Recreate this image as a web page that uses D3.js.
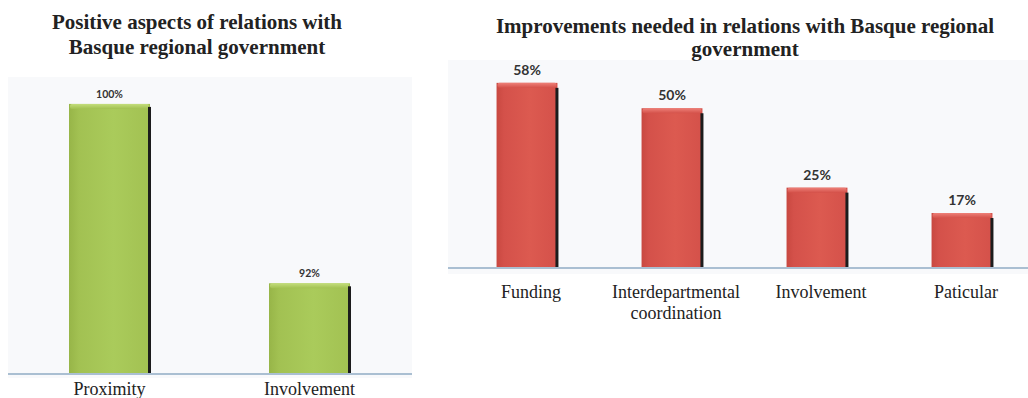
<!DOCTYPE html>
<html>
<head>
<meta charset="utf-8">
<script src="https://cdn.jsdelivr.net/npm/d3@7"></script>
<style>
  html, body { margin: 0; padding: 0; background: #ffffff; }
  svg { display: block; }
</style>
</head>
<body>
<svg id="chart" width="1028" height="398"></svg>
<script>
// Positive aspects (left panel)
const positiveCategories = ["Proximity", "Involvement"];
const positiveValues = [100, 92];
const positiveAxisMin = 88;      // value axis does not start at zero
const positiveAxisMax = 101.2;

// Improvements needed (right panel)
const improvementCategories = [["Funding"], ["Interdepartmental", "coordination"], ["Involvement"], ["Paticular"]];
const improvementValues = [58, 50, 25, 17];
const improvementAxisMax = 65.2;

const leftTitle = ["Positive aspects of relations with", "Basque regional government"];
const rightTitle = ["Improvements needed in relations with Basque regional", "government"];

const svg = d3.select("#chart");
const defs = svg.append("defs");

function makeGradients(id, light, mid, dark, topLight) {
  const g = defs.append("linearGradient").attr("id", id)
    .attr("x1", "0").attr("x2", "1").attr("y1", "0").attr("y2", "0");
  g.append("stop").attr("offset", "0%").attr("stop-color", dark);
  g.append("stop").attr("offset", "12%").attr("stop-color", mid);
  g.append("stop").attr("offset", "55%").attr("stop-color", light);
  g.append("stop").attr("offset", "100%").attr("stop-color", mid);
  const t = defs.append("linearGradient").attr("id", id + "-top")
    .attr("x1", "0").attr("x2", "0").attr("y1", "0").attr("y2", "1");
  t.append("stop").attr("offset", "0%").attr("stop-color", topLight);
  t.append("stop").attr("offset", "100%").attr("stop-color", mid);
}
makeGradients("green", "#aacb5b", "#a2c152", "#97b548", "#c4de7c");
makeGradients("red", "#dc5a50", "#d4514a", "#c84840", "#ee8078");

function drawPanel(opts) {
  const g = svg.append("g");
  // plot background
  g.append("rect")
    .attr("x", opts.bgX0).attr("y", opts.bgY0)
    .attr("width", opts.bgX1 - opts.bgX0).attr("height", opts.bgY1 - opts.bgY0)
    .attr("fill", "#f8f9fb");

  const x = d3.scaleBand()
    .domain(d3.range(opts.values.length))
    .range(opts.xRange)
    .paddingInner(opts.pad).paddingOuter(opts.pad / 2);
  const y = d3.scaleLinear().domain(opts.yDomain).range([opts.baseline, opts.bgY0]);

  const bars = g.selectAll("g.bar").data(opts.values).join("g").attr("class", "bar");
  const bw = x.bandwidth();

  bars.append("rect")
    .attr("x", (d, i) => x(i)).attr("y", d => y(d))
    .attr("width", bw).attr("height", d => y(opts.yDomain[0]) - y(d))
    .attr("fill", `url(#${opts.grad})`);
  // top bevel
  bars.append("rect")
    .attr("x", (d, i) => x(i) + 1).attr("y", d => y(d))
    .attr("width", bw - 2).attr("height", 5)
    .attr("rx", 2)
    .attr("fill", `url(#${opts.grad}-top)`);
  // dark right edge
  bars.append("rect")
    .attr("x", (d, i) => x(i) + bw - 2).attr("y", d => y(d) + opts.shadowOffset)
    .attr("width", 3).attr("height", d => y(opts.yDomain[0]) - y(d) - opts.shadowOffset)
    .attr("fill", "#1c1c1c");

  // value labels
  bars.append("text")
    .attr("x", (d, i) => x(i) + bw / 2)
    .attr("y", d => y(d) - opts.labelGap)
    .attr("text-anchor", "middle")
    .attr("font-family", "Lato, 'DejaVu Sans', sans-serif")
    .attr("font-weight", "bold")
    .attr("font-size", opts.valueSize)
    .attr("fill", "#333")
    .text(d => d + "%");

  // baseline
  g.append("line")
    .attr("x1", opts.bgX0).attr("x2", opts.bgX1)
    .attr("y1", opts.baseline + 1).attr("y2", opts.baseline + 1)
    .attr("stroke", "#aabfd2").attr("stroke-width", 2);

  // category labels
  const cats = g.selectAll("text.cat").data(opts.categories).join("text")
    .attr("class", "cat")
    .attr("x", (d, i) => x(i) + bw / 2 + opts.catShift)
    .attr("y", opts.catY)
    .attr("text-anchor", "middle")
    .attr("font-family", "'Liberation Serif', 'Times New Roman', serif")
    .attr("font-size", 18)
    .attr("fill", "#222");
  cats.each(function(d) {
    const lines = Array.isArray(d) ? d : [d];
    const t = d3.select(this);
    lines.forEach((ln, k) => {
      t.append("tspan").attr("x", t.attr("x")).attr("dy", k === 0 ? 0 : 21).text(ln);
    });
  });

  // title
  const title = g.append("text")
    .attr("text-anchor", "middle")
    .attr("font-family", "'Liberation Serif', 'Times New Roman', serif")
    .attr("font-weight", "bold")
    .attr("font-size", 21)
    .attr("fill", "#222");
  opts.title.forEach((ln, k) => {
    title.append("tspan").attr("x", opts.titleX).attr("y", opts.titleY + k * opts.titleGap).text(ln);
  });
}

drawPanel({
  values: positiveValues,
  categories: positiveCategories,
  yDomain: [positiveAxisMin, positiveAxisMax],
  bgX0: 8, bgX1: 412, bgY0: 77, bgY1: 378,
  baseline: 373,
  xRange: [9.5, 409.5], pad: 0.595,
  grad: "green", shadowOffset: 3,
  valueSize: 10.5, labelGap: 6,
  catY: 395, catShift: 0,
  title: leftTitle, titleX: 197, titleY: 29, titleGap: 25
});

drawPanel({
  values: improvementValues,
  categories: improvementCategories,
  yDomain: [0, improvementAxisMax],
  bgX0: 448, bgX1: 1028, bgY0: 60, bgY1: 274,
  baseline: 267,
  xRange: [454.5, 1034.5], pad: 0.58,
  grad: "red", shadowOffset: 5,
  valueSize: 14, labelGap: 8,
  catY: 298, catShift: 4,
  title: rightTitle, titleX: 745, titleY: 33, titleGap: 23
});
</script>
</body>
</html>
